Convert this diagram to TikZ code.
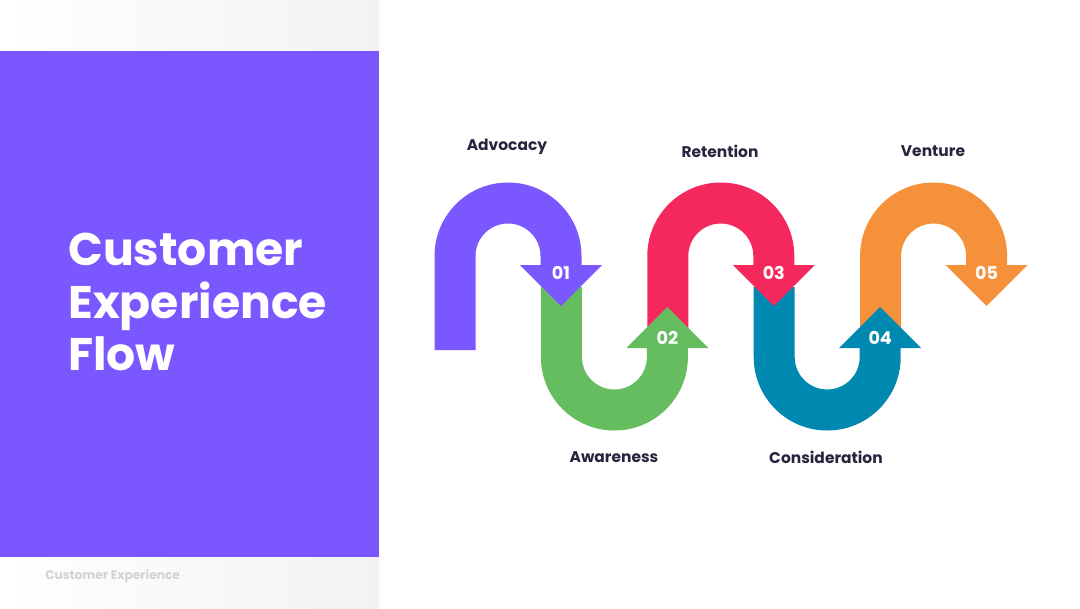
\documentclass[tikz,border=0pt]{standalone}
\usepackage{fontspec}
\setmainfont{Poppins}
\usetikzlibrary{positioning}

\definecolor{cxPurple}{HTML}{7B57FF}
\definecolor{cxGreen}{HTML}{66BD5F}
\definecolor{cxPink}{HTML}{F5285D}
\definecolor{cxBlue}{HTML}{0089B0}
\definecolor{cxOrange}{HTML}{F4913A}
\definecolor{cxNavy}{HTML}{25253F}
\definecolor{cxFoot}{HTML}{D2D2D2}

\begin{document}
\begin{tikzpicture}[
    x=0.025cm, y=-0.025cm,
    titleline/.style={anchor=base west, inner sep=0pt, text=white, font=\bfseries\fontsize{32.5}{38}\selectfont},
    stagelabel/.style={inner sep=0pt, text=cxNavy, font=\bfseries\fontsize{11}{13}\selectfont},
    numlabel/.style={inner sep=0pt, text=white, font=\bfseries\fontsize{12.5}{15}\selectfont},
    footlabel/.style={anchor=base west, inner sep=0pt, text=cxFoot, font=\bfseries\fontsize{8.7}{10}\selectfont}
]
\useasboundingbox (0,0) rectangle (1080,608);
\fill[white] (0,0) rectangle (1080,608);

% --- Left panel ---
\shade[left color=white, right color=black!5] (0,0) rectangle (379,608);
\fill[cxPurple] (0,51) rectangle (379,557);

\node[titleline] (title1) at (68,265) {Customer};
\node[titleline] (title2) at (68,318) {Experience};
\node[titleline] (title3) at (68,370) {Flow};

\node[footlabel] (footer) at (45,579) {Customer Experience};

% --- Upper arches (centre x / colour / foot of left leg) ---
\foreach \cx/\col/\lo in {508/cxPurple/350, 720.8/cxPink/340, 933.6/cxOrange/340} {
    \fill[\col] (\cx-73.5,\lo) -- (\cx-73.5,256)
        arc[start angle=180, end angle=360, radius=73.5]
        -- (\cx+73.5,266) -- (\cx+32.5,266) -- (\cx+32.5,256)
        arc[start angle=360, end angle=180, radius=32.5]
        -- (\cx-32.5,\lo) -- cycle;
}

% --- Lower arches ---
\foreach \cx/\col in {614.4/cxGreen, 827.2/cxBlue} {
    \fill[\col] (\cx-73.5,287) -- (\cx-73.5,357)
        arc[start angle=180, end angle=0, radius=73.5]
        -- (\cx+73.5,347) -- (\cx+32.5,347) -- (\cx+32.5,357)
        arc[start angle=0, end angle=180, radius=32.5]
        -- (\cx-32.5,287) -- cycle;
}

% --- Arrow heads ---
\foreach \ax/\col in {561/cxPurple, 773.8/cxPink, 986.6/cxOrange} {
    \fill[\col] (\ax-41,265) -- (\ax+41,265) -- (\ax,306) -- cycle;
}
\foreach \ax/\col in {667.4/cxGreen, 880.2/cxBlue} {
    \fill[\col] (\ax-41,348) -- (\ax+41,348) -- (\ax,307) -- cycle;
}

% --- Step numbers ---
\node[numlabel] (n01) at (561,273) {01};
\node[numlabel] (n02) at (667.4,338) {02};
\node[numlabel] (n03) at (773.8,273) {03};
\node[numlabel] (n04) at (880.2,338) {04};
\node[numlabel] (n05) at (986.6,273) {05};

% --- Stage names ---
\node[stagelabel] (advocacy)      at (507,147) {Advocacy};
\node[stagelabel] (retention)     at (720,151) {Retention};
\node[stagelabel] (venture)       at (933,151) {Venture};
\node[stagelabel] (awareness)     at (614,457) {Awareness};
\node[stagelabel] (consideration) at (826,457) {Consideration};

\end{tikzpicture}
\end{document}
